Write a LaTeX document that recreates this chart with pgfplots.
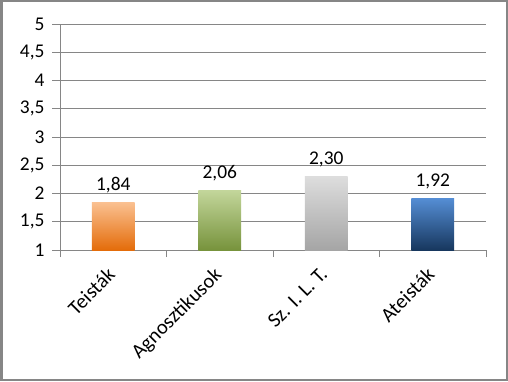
\documentclass[border=0pt]{standalone}
\usepackage{fontspec}
\setmainfont{Carlito}
\usepackage{pgfplots}
\pgfplotsset{compat=1.18}
\definecolor{frame}{HTML}{868686}
\definecolor{gridc}{HTML}{868686}
\definecolor{orT}{HTML}{FAC090}\definecolor{orB}{HTML}{E46C0A}
\definecolor{grT}{HTML}{C3D69B}\definecolor{grB}{HTML}{77933C}
\definecolor{gyT}{HTML}{DDDDDD}\definecolor{gyB}{HTML}{A5A5A5}
\definecolor{blT}{HTML}{558ED5}\definecolor{blB}{HTML}{17375E}
\begin{document}
\begin{tikzpicture}[x=1bp,y=1bp]
\useasboundingbox (0,0) rectangle (508,381);
\fill[white] (0,0) rectangle (508,381);
\draw[color=frame, line width=2.5bp] (1.25,1.25) rectangle (506.75,379.75);
\begin{axis}[
  at={(60bp,131bp)}, anchor=south west,
  scale only axis, width=426bp, height=226bp,
  xmin=-0.5, xmax=3.5, ymin=0, ymax=4,
  axis x line*=bottom, axis y line*=left,
  axis line style={color=gridc, line width=0.9bp, -},
  ytick={0,0.5,...,4},
  yticklabels={1,{1,5},2,{2,5},3,{3,5},4,{4,5},5},
  ymajorgrids, grid style={color=gridc, line width=0.9bp},
  xtick={0,1,2,3},
  xticklabels={Teisták,Agnosztikusok,{Sz. I. L. T.},Ateisták},
  minor xtick={-0.5,0.5,1.5,2.5,3.5},
  major x tick style={draw=none},
  tick style={color=gridc, line width=0.9bp},
  tick align=outside, major tick length=8bp, minor tick length=7bp,
  ticklabel style={font=\fontsize{19.5}{23}\selectfont, text=black},
  yticklabel style={anchor=east, xshift=-4bp},
  xticklabel style={xshift=-7bp, yshift=-8bp, rotate=45, anchor=north east, inner sep=0pt, font=\fontsize{20.5}{24}\selectfont},
  ybar, bar width=0.4, bar shift=0pt,
  point meta=explicit,
  nodes near coords={\pgfmathprintnumber[fixed,fixed zerofill,precision=2,use comma,assume math mode=true]{\pgfplotspointmeta}},
  every node near coord/.append style={font=\fontsize{19.5}{23}\selectfont, text=black, yshift=6bp},
  clip=false,
]
\addplot[draw=none, top color=orT, bottom color=orB] coordinates {(0,0.84) [1.84]};
\addplot[draw=none, top color=grT, bottom color=grB] coordinates {(1,1.06) [2.06]};
\addplot[draw=none, top color=gyT, bottom color=gyB] coordinates {(2,1.30) [2.30]};
\addplot[draw=none, top color=blT, bottom color=blB] coordinates {(3,0.92) [1.92]};
\end{axis}
\end{tikzpicture}
\end{document}
